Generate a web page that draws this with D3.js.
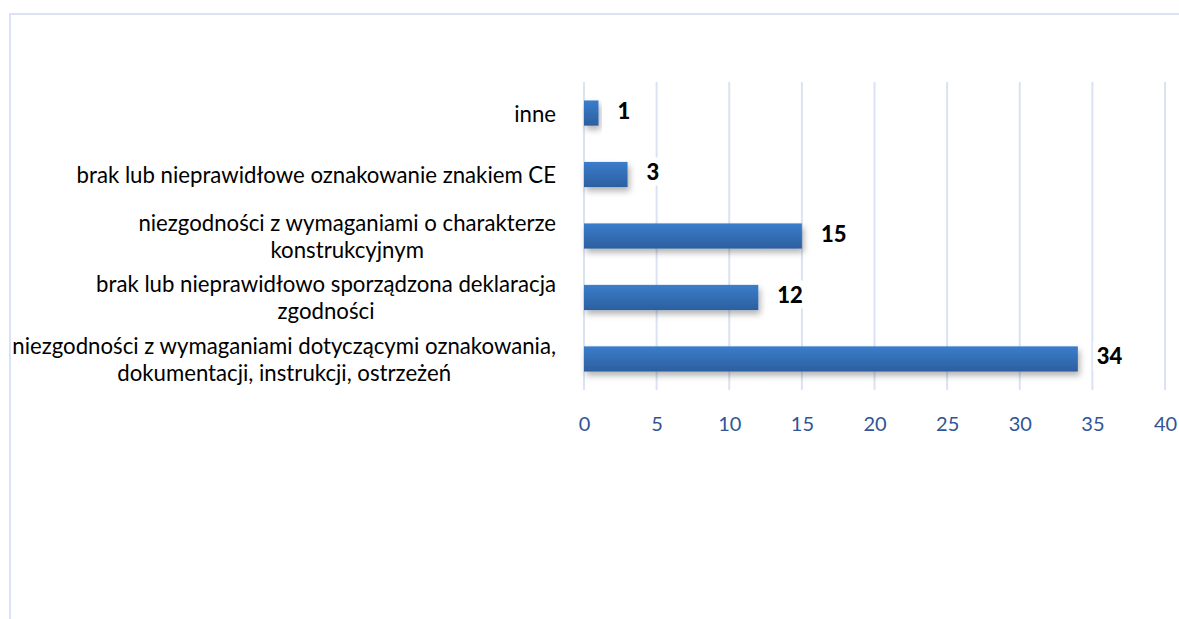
<!DOCTYPE html>
<html lang="pl">
<head>
<meta charset="UTF-8">
<title>Wykres</title>
<script src="https://d3js.org/d3.v7.min.js"></script>
<style>
  body { margin: 0; background: #fff; }
  svg { display: block; }
</style>
</head>
<body>
<svg width="1179" height="619" id="mainsvg"></svg>
<script>
// dane
const categories = [
  ['inne'],
  ['brak lub nieprawidłowe oznakowanie znakiem CE'],
  ['niezgodności z wymaganiami o charakterze', 'konstrukcyjnym'],
  ['brak lub nieprawidłowo sporządzona deklaracja', 'zgodności'],
  ['niezgodności z wymaganiami dotyczącymi oznakowania,', 'dokumentacji, instrukcji, ostrzeżeń']
];
const values = [1, 3, 15, 12, 34];
const xTicks = [0, 5, 10, 15, 20, 25, 30, 35, 40];

const svg = d3.select('#mainsvg');
const width = +svg.attr('width');
const height = +svg.attr('height');
const margin = {top: 82, right: 14, bottom: 229, left: 584};
const innerWidth = width - margin.left - margin.right;
const innerHeight = height - margin.top - margin.bottom;
const font = 'Lato, "Open Sans", sans-serif';

// ramka wykresu
svg.append('path')
  .attr('d', `M10,${height} L10,14 L${width},14`)
  .attr('fill', 'none')
  .attr('stroke', '#dae3f3')
  .attr('stroke-width', 2);

const defs = svg.append('defs');
const grad = defs.append('linearGradient').attr('id', 'barGrad')
  .attr('x1', 0).attr('y1', 0).attr('x2', 0).attr('y2', 1);
grad.append('stop').attr('offset', '0%').attr('stop-color', '#3b7dcc');
grad.append('stop').attr('offset', '100%').attr('stop-color', '#2c5f9f');

const shadow = defs.append('filter').attr('id', 'shadow')
  .attr('x', '-10%').attr('y', '-30%').attr('width', '130%').attr('height', '190%');
shadow.append('feDropShadow')
  .attr('dx', 2).attr('dy', 4).attr('stdDeviation', 3)
  .attr('flood-color', '#000').attr('flood-opacity', 0.3);

const x = d3.scaleLinear().domain([0, 40]).range([0, innerWidth]);
const y = d3.scaleBand().domain(d3.range(values.length)).range([0, innerHeight]).paddingInner(0.59).paddingOuter(0.3);

const g = svg.append('g').attr('transform', `translate(${margin.left},${margin.top})`);

// siatka
g.selectAll('.grid').data(xTicks).join('line')
  .attr('class', 'grid')
  .attr('x1', d => x(d)).attr('x2', d => x(d))
  .attr('y1', 0).attr('y2', innerHeight)
  .attr('stroke', '#dae3f3')
  .attr('stroke-width', 2);

// oś X
const xAxis = d3.axisBottom(x).tickValues(xTicks).tickSize(0).tickPadding(27);
const ax = g.append('g').attr('transform', `translate(0,${innerHeight})`).call(xAxis);
ax.select('.domain').remove();
ax.selectAll('text')
  .attr('font-family', font)
  .attr('font-size', 20)
  .attr('fill', '#2f5597');

// słupki
g.selectAll('.bar').data(values).join('rect')
  .attr('class', 'bar')
  .attr('x', 0)
  .attr('y', (d, i) => y(i))
  .attr('width', d => x(d))
  .attr('height', y.bandwidth())
  .attr('fill', 'url(#barGrad)')
  .attr('filter', 'url(#shadow)');

// etykiety wartości
const lbl = g.selectAll('.val').data(values).join('g')
  .attr('class', 'val')
  .attr('transform', (d, i) => `translate(${x(d) + 19},${y(i) + y.bandwidth() / 2 - 3})`);
lbl.append('rect')
  .attr('x', -4).attr('y', -14)
  .attr('width', d => String(d).length * 13 + 8).attr('height', 28)
  .attr('fill', '#fff');
lbl.append('text')
  .text(d => d)
  .attr('dominant-baseline', 'central')
  .attr('font-family', font)
  .attr('font-weight', 900)
  .attr('font-size', 22)
  .attr('fill', '#000');

// etykiety kategorii
const labelRight = -28;
const lineH = 27;
categories.forEach((lines, i) => {
  const cy = y(i) + y.bandwidth() / 2;
  const t = g.append('text')
    .attr('font-family', font)
    .attr('font-size', 22.2)
    .attr('fill', '#000')
    .attr('text-anchor', 'middle');
  const spans = lines.map((s, k) => t.append('tspan')
    .attr('y', cy + (k - (lines.length - 1) / 2) * lineH)
    .attr('dominant-baseline', 'central')
    .text(s));
  const maxW = d3.max(spans, s => s.node().getComputedTextLength());
  spans.forEach(s => s.attr('x', labelRight - maxW / 2));
});
</script>
</body>
</html>
